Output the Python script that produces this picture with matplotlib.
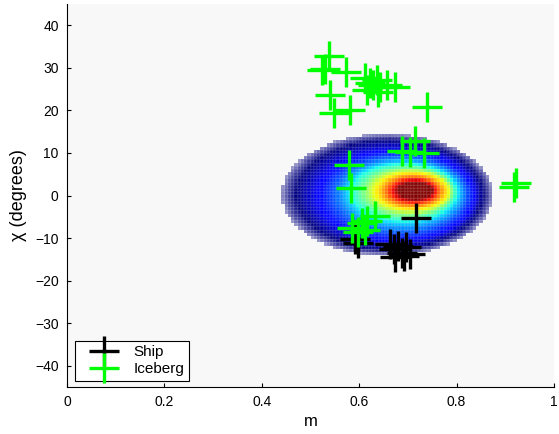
import numpy as np
import matplotlib.pyplot as plt
from matplotlib import cm

plt.rcParams['font.family'] = ['Liberation Sans', 'DejaVu Sans']

# density contour bands (outer -> inner): centre and half widths in m and chi
band_m_centre = [0.657, 0.659, 0.662, 0.677, 0.687, 0.692, 0.707, 0.710, 0.712, 0.715]
band_m_half = [0.217, 0.207, 0.192, 0.158, 0.128, 0.108, 0.078, 0.060, 0.047, 0.035]
band_chi_centre = [0.2, 0.2, 0.2, 0.0, 0.4, 0.75, 1.0, 1.0, 1.1, 1.2]
band_chi_half = [14.3, 13.6, 12.8, 10.5, 8.3, 6.8, 4.6, 3.6, 2.8, 2.0]
band_level = [-0.2, -0.1, 0.0, 0.125, 0.25, 0.375, 0.625, 0.75, 0.875, 1.0]

# Ship targets
ship_m = [0.717, 0.591, 0.598, 0.663, 0.671, 0.680, 0.687, 0.696, 0.704, 0.673, 0.692]
ship_chi = [-5.2, -10.3, -11.2, -11.5, -12.6, -11.9, -13.4, -12.2, -13.8, -14.5, -14.2]

# Iceberg targets
ice_m = [0.538, 0.523, 0.530, 0.573, 0.541, 0.548, 0.581,
         0.612, 0.622, 0.629, 0.637, 0.643, 0.658, 0.673, 0.616, 0.639,
         0.740, 0.715, 0.687, 0.733, 0.704,
         0.578, 0.583, 0.585, 0.605, 0.617, 0.632, 0.598, 0.612,
         0.918, 0.922]
ice_chi = [32.8, 29.5, 29.8, 29.1, 23.6, 19.4, 20.1,
           27.6, 26.4, 26.0, 27.1, 25.6, 26.0, 25.6, 24.8, 24.4,
           20.9, 12.7, 10.4, 10.0, 10.3,
           7.1, 1.8, -7.6, -6.4, -6.0, -4.8, -8.6, -8.0,
           2.0, 3.0]

# histogram grid
m_edges = np.arange(0.40, 0.93, 1 / 150)
chi_edges = np.arange(-20, 20.01, 0.75)
mc = 0.5 * (m_edges[:-1] + m_edges[1:])
cc = 0.5 * (chi_edges[:-1] + chi_edges[1:])
M, C = np.meshgrid(mc, cc)

radius = [np.sqrt(((M - band_m_centre[k]) / band_m_half[k]) ** 2 +
                  ((C - band_chi_centre[k]) / band_chi_half[k]) ** 2)
          for k in range(len(band_level))]
level = np.full(M.shape, np.nan)
for k in range(len(band_level)):
    inside = radius[k] <= 1
    if k + 1 < len(band_level):
        a = 1 - radius[k]
        b = radius[k + 1] - 1
        frac = a / (a + b)
        val = band_level[k] + frac * (band_level[k + 1] - band_level[k])
        level = np.where(inside & (radius[k + 1] > 1), val, level)
    else:
        level = np.where(inside, band_level[k], level)

empty = np.isnan(level)
lv = np.nan_to_num(level)
rgba = cm.jet(np.clip(lv, 0, 1))
rgba[..., 3] = np.where(empty, 0, np.clip(1 + 3.0 * lv, 0.35, 1))

# faint cell borders only where there are counts
edges = np.zeros(rgba.shape)
edges[..., :3] = 1
edges[..., 3] = np.where(empty, 0, 0.08)

fig = plt.figure(figsize=(5.59, 4.34), dpi=100)
ax = fig.add_axes([0.12, 0.108, 0.871, 0.883])
ax.set_facecolor('#f8f8f8')

mesh = ax.pcolormesh(m_edges, chi_edges, rgba, linewidth=0.3)
mesh.set_edgecolor(edges.reshape(-1, 4))

ax.plot(ship_m, ship_chi, '+', color='k', ms=21, mew=2.4, label='Ship')
ax.plot(ice_m, ice_chi, '+', color='#00ff00', ms=21, mew=2.4, label='Iceberg')

ax.set_xlim(0, 1)
ax.set_ylim(-45, 45)
ax.set_xticks(np.arange(0, 1.01, 0.2))
ax.set_xticklabels(['0', '0.2', '0.4', '0.6', '0.8', '1'])
ax.set_yticks(np.arange(-40, 41, 10))
ax.tick_params(direction='in', length=3, labelsize=10, pad=6, top=False, right=False)
for s in ['top', 'right']:
    ax.spines[s].set_visible(False)
ax.set_xlabel('m', fontsize=12, labelpad=3)
ax.set_ylabel('χ (degrees)', fontsize=13, labelpad=6)

leg = ax.legend(loc='lower left', bbox_to_anchor=(0.016, 0.016), borderaxespad=0,
                fontsize=11, numpoints=1, fancybox=False, framealpha=1,
                edgecolor='k', handlelength=3.2, handletextpad=0.35,
                labelspacing=0.2, borderpad=0.3)
leg.get_frame().set_linewidth(0.8)

fig.savefig('out.png', dpi=100)
